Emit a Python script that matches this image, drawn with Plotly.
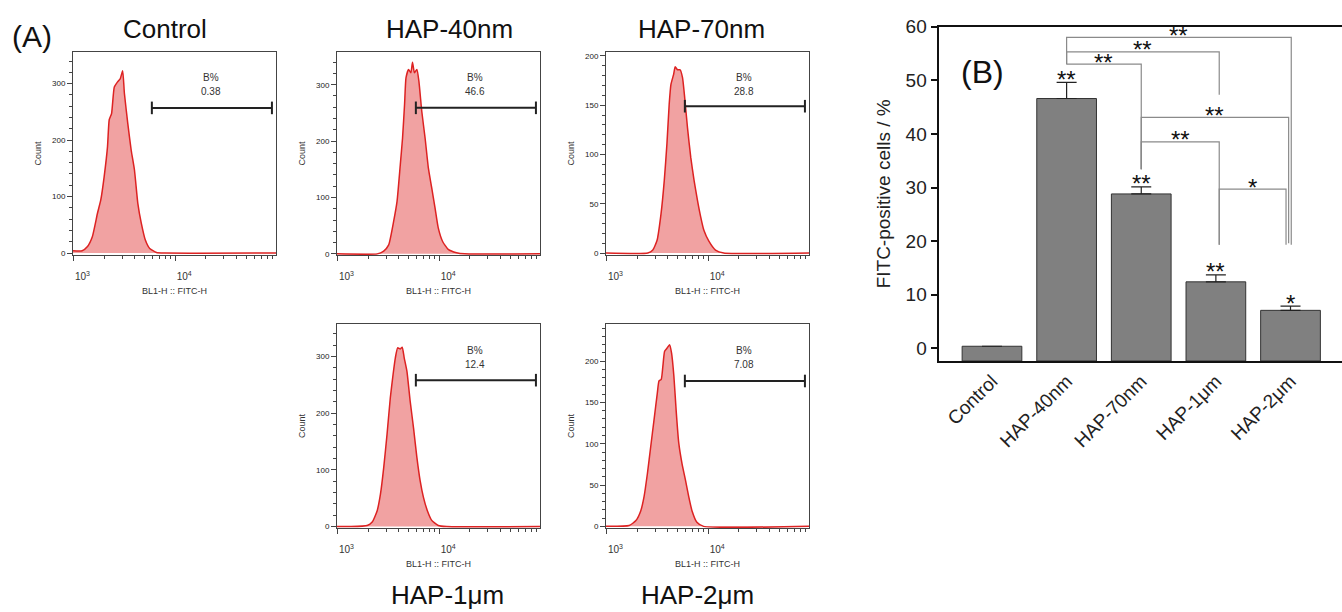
import plotly.graph_objects as go

W, H = 1342, 612
FONT = "Liberation Sans, Arial, sans-serif"

# ---------------- Panel A : flow-cytometry histograms ----------------
hist_titles = ["Control", "HAP-40nm", "HAP-70nm", "HAP-1μm", "HAP-2μm"]
bpct_values = ["0.38", "46.6", "28.8", "12.4", "7.08"]

# log10(FITC-H) positions and counts
ctrl_log = [2.995, 3.085, 3.135, 3.185, 3.235, 3.268, 3.301, 3.334, 3.351, 3.374, 3.401, 3.433,
            3.46, 3.483, 3.5, 3.533, 3.567, 3.599, 3.632, 3.666, 3.706, 3.749, 3.815, 3.898, 4.99]
ctrl_count = [4, 4, 11, 29, 70, 94, 135, 188, 236, 247, 294, 303,
              309, 323, 283, 230, 182, 147, 88, 53, 23, 8, 1, 0, 0]

hap40_log = [2.995, 3.39, 3.454, 3.503, 3.552, 3.585, 3.617, 3.639, 3.659, 3.673, 3.698, 3.721,
             3.737, 3.756, 3.78, 3.8, 3.828, 3.861, 3.893, 3.926, 3.958, 3.99, 4.033, 4.088,
             4.17, 4.25, 4.99]
hap40_count = [0, 0, 5, 16, 58, 93, 158, 205, 265, 312, 327, 321,
               340, 321, 327, 306, 253, 205, 152, 117, 82, 46, 22, 8,
               2, 0, 0]

hap70_log = [2.995, 3.406, 3.455, 3.497, 3.536, 3.568, 3.594, 3.616, 3.633, 3.659, 3.675, 3.698,
             3.723, 3.747, 3.769, 3.796, 3.828, 3.86, 3.893, 3.925, 3.957, 4.006, 4.071, 4.152, 4.99]
hap70_count = [0, 0, 3, 13, 40, 74, 111, 151, 171, 181, 189, 186,
               186, 178, 157, 127, 97, 74, 54, 37, 23, 12, 3, 0, 0]

hap1_log = [2.995, 3.13, 3.292, 3.341, 3.39, 3.422, 3.454, 3.487, 3.519, 3.546, 3.568, 3.591,
            3.617, 3.636, 3.656, 3.682, 3.714, 3.747, 3.78, 3.812, 3.844, 3.883, 3.926, 3.99,
            4.072, 4.99]
hap1_count = [0, 0, 2, 8, 28, 57, 104, 163, 227, 268, 297, 315,
              313, 316, 297, 274, 221, 174, 122, 81, 52, 28, 11, 2,
              0, 0]

hap2_log = [2.995, 3.223, 3.289, 3.337, 3.369, 3.402, 3.435, 3.467, 3.499, 3.516, 3.538, 3.554,
            3.571, 3.596, 3.62, 3.639, 3.662, 3.684, 3.71, 3.742, 3.776, 3.808, 3.84, 3.888,
            3.954, 4.99]
hap2_count = [0, 1, 7, 19, 36, 64, 97, 129, 161, 176, 178, 194,
              212, 216, 220, 210, 182, 141, 101, 76, 56, 36, 19, 5,
              0, 0]

hist_logs = [ctrl_log, hap40_log, hap70_log, hap1_log, hap2_log]
hist_counts = [ctrl_count, hap40_count, hap70_count, hap1_count, hap2_count]

gate_log = [3.77, 4.95]
gate_count = [257, 259, 149, 258, 176]

# ---------------- Panel B : bar chart ----------------
categories = ["Control", "HAP-40nm", "HAP-70nm", "HAP-1μm", "HAP-2μm"]
fitc_pos = [0.38, 46.6, 28.8, 12.4, 7.08]
fitc_err = [None, 3.0, 1.3, 1.3, 0.8]
bar_sig = ["", "**", "**", "**", "*"]

# significance comparisons: (group i, group j, bracket level, label)
comp_i = [1, 1, 1, 2, 2, 3]
comp_j = [4, 3, 2, 4, 3, 4]
comp_level = [58.0, 55.3, 53.0, 43.1, 38.5, 29.7]
comp_left_end = [53.0, 53.0, 53.0, 33.4, 33.4, 19.3]
comp_right_end = [19.3, 47.3, 33.4, 19.6, 19.3, 19.3]
comp_label = ["**", "**", "**", "**", "**", "*"]

# ---------------- styling / geometry ----------------
panels = [
    dict(x0=73, x1=276, y0=52, y1=255, yr=[-3.5, 356], dt=100, mdt=20, tx=165, ty=29),
    dict(x0=337, x1=540, y0=52, y1=255, yr=[-2, 358], dt=100, mdt=20, tx=449, ty=29),
    dict(x0=606, x1=809, y0=52, y1=255, yr=[-2, 204], dt=50, mdt=10, tx=701, ty=29),
    dict(x0=337, x1=540, y0=324, y1=528, yr=[-2.5, 357], dt=100, mdt=20, tx=447, ty=595),
    dict(x0=606, x1=809, y0=324, y1=528, yr=[-2, 245], dt=50, mdt=10, tx=697, ty=595),
]
dx_left = [0, 0, 0, 0, 0, 0.045]
dx_right = [0.01, 0.045, 0.0, -0.025, 0.045, -0.06]
Y_MIN = -2.37

minor_vals = [m * 10 ** e for e in (3, 4) for m in range(2, 10)]

fig = go.Figure()
layout = dict(
    width=W, height=H, margin=dict(l=0, r=0, t=0, b=0, pad=0, autoexpand=False),
    paper_bgcolor="white", plot_bgcolor="white", showlegend=False,
    font=dict(family=FONT, color="#222"),
)
annotations = []

for k, p in enumerate(panels):
    n = "" if k == 0 else str(k + 1)
    xa, ya = "x" + n, "y" + n
    fig.add_trace(go.Scatter(
        x=[10 ** v for v in hist_logs[k]], y=hist_counts[k], xaxis=xa, yaxis=ya,
        mode="lines", line=dict(color="#DD2222", width=1.5, shape="spline", smoothing=0.5),
        fill="tozeroy", fillcolor="rgba(230,85,85,0.55)", hoverinfo="skip"))
    fig.add_trace(go.Scatter(
        x=[10 ** g for g in gate_log], y=[gate_count[k]] * 2, xaxis=xa, yaxis=ya,
        mode="lines+markers", line=dict(color="#222", width=2),
        marker=dict(symbol="line-ns", size=9, line=dict(width=2, color="#222")),
        hoverinfo="skip"))
    layout["xaxis" + n] = dict(
        type="log", range=[2.995, 4.99], domain=[p["x0"] / W, p["x1"] / W], anchor=ya,
        automargin=False,
        showline=True, linecolor="#444", linewidth=1, mirror=True,
        ticks="outside", ticklen=5, tickcolor="#444",
        tickmode="array", tickvals=[1e3, 1e4],
        ticktext=["10<sup>3</sup>", "10<sup>4</sup>"],
        minor=dict(tickmode="array", tickvals=minor_vals, ticks="outside",
                   ticklen=3, tickcolor="#444", showgrid=False),
        tickfont=dict(size=10, color="#333"), ticklabelstandoff=7, ticklabelshift=9,
        title=dict(text="BL1-H :: FITC-H", font=dict(size=9, color="#333"), standoff=6),
        showgrid=False, zeroline=False)
    layout["yaxis" + n] = dict(
        range=p["yr"], domain=[1 - p["y1"] / H, 1 - p["y0"] / H], anchor=xa,
        automargin=False,
        showline=True, linecolor="#444", linewidth=1, mirror=True,
        ticks="outside", ticklen=5, tickcolor="#444", dtick=p["dt"], tick0=0,
        minor=dict(dtick=p["mdt"], ticks="outside", ticklen=3, tickcolor="#444", showgrid=False),
        tickfont=dict(size=8, color="#222"),
        title=dict(text="Count", font=dict(size=9, color="#333"), standoff=8),
        showgrid=False, zeroline=False)
    annotations.append(dict(text=hist_titles[k], x=p["tx"] / W, y=1 - p["ty"] / H,
                            xref="paper", yref="paper", showarrow=False,
                            xanchor="center", yanchor="middle",
                            font=dict(size=26, color="#111")))
    annotations.append(dict(text="B%", x=0.68, y=0.872, xref=xa + " domain", yref=ya + " domain",
                            xanchor="center", yanchor="middle",
                            showarrow=False, font=dict(size=10, color="#333")))
    annotations.append(dict(text=bpct_values[k], x=0.68, y=0.803, xref=xa + " domain",
                            yref=ya + " domain", xanchor="center", yanchor="middle",
                            showarrow=False, font=dict(size=10, color="#333")))

# Bars
fig.add_trace(go.Bar(
    x=list(range(len(categories))), y=[v - Y_MIN for v in fitc_pos], base=Y_MIN,
    xaxis="x6", yaxis="y6", width=0.8,
    marker=dict(color="#808080", line=dict(color="#333", width=1)),
    error_y=dict(type="data", symmetric=False, array=fitc_err,
                 arrayminus=[0] * len(fitc_pos), color="#222", thickness=1.2, width=10),
    hoverinfo="skip"))

for k in range(len(comp_i)):
    xl = comp_i[k] + dx_left[k]
    xr = comp_j[k] + dx_right[k]
    fig.add_trace(go.Scatter(
        x=[xl, xl, xr, xr], y=[comp_left_end[k], comp_level[k], comp_level[k], comp_right_end[k]],
        xaxis="x6", yaxis="y6", mode="lines", line=dict(color="#8a8a8a", width=1.2),
        hoverinfo="skip"))
    annotations.append(dict(text=comp_label[k], x=(xl + xr) / 2, y=comp_level[k],
                            xref="x6", yref="y6", showarrow=False,
                            xanchor="center", yanchor="middle", yshift=2,
                            font=dict(size=24, color="#111")))

for k, s in enumerate(bar_sig):
    if s:
        annotations.append(dict(text=s, x=k, y=fitc_pos[k] + (fitc_err[k] or 0),
                                xref="x6", yref="y6", showarrow=False,
                                xanchor="center", yanchor="middle", yshift=3,
                                font=dict(size=24, color="#111")))

layout["xaxis6"] = dict(
    domain=[939.3 / W, 1.0], range=[-0.706, 4.69], anchor="y6", automargin=False,
    tickmode="array", tickvals=list(range(len(categories))), ticktext=categories,
    tickangle=-45, ticks="", showline=True, linecolor="#111", linewidth=1.5, mirror=True,
    tickfont=dict(size=19, color="#222"), showgrid=False, zeroline=False)
layout["yaxis6"] = dict(
    domain=[1 - 361 / H, 1 - 26.7 / H], range=[Y_MIN, 60], anchor="x6", automargin=False,
    dtick=10, tick0=0, ticks="outside", ticklen=7, tickwidth=1.5, tickcolor="#111",
    showline=True, linecolor="#111", linewidth=1.5,
    tickfont=dict(size=19, color="#222"),
    title=dict(text="FITC-positive cells / %", font=dict(size=19, color="#222"), standoff=10),
    showgrid=False, zeroline=False)

annotations.append(dict(text="(A)", x=32 / W, y=1 - 36 / H, xref="paper", yref="paper",
                        xanchor="center", yanchor="middle",
                        showarrow=False, font=dict(size=30, color="#111")))
annotations.append(dict(text="(B)", x=982 / W, y=1 - 72 / H, xref="paper", yref="paper",
                        xanchor="center", yanchor="middle",
                        showarrow=False, font=dict(size=32, color="#111")))

layout["annotations"] = annotations
fig.update_layout(**layout)

pin_js = ("var gd=document.getElementById('{plot_id}');"
          "document.body.style.margin='0';document.body.style.overflow='hidden';"
          "gd.style.position='absolute';gd.style.left='0px';gd.style.top='0px';")
fig.write_html("out.html", post_script=pin_js, config={"displayModeBar": False})
